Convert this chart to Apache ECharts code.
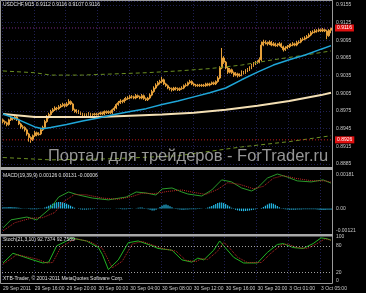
<!DOCTYPE html>
<html><head><meta charset="utf-8">
<script src="https://cdn.jsdelivr.net/npm/echarts@6/dist/echarts.min.js"></script>
<style>html,body{margin:0;padding:0;background:#000;}#c{width:366px;height:293px;}</style>
</head><body><div id="c"></div>
<script>
// ---------- DATA ----------
const titleMain = 'USDCHF,M15 0.9112 0.9116 0.9107 0.9116';
const titleMacd = 'MACD(19,39,9) 0.00126 0.00131 -0.00006';
const titleStoch = 'Stoch(21,3,10) 92.7374 92.7589';
const copyright = 'XTB-Trader, \u00a9 2001-2011 MetaQuotes Software Corp.';
const watermark = '\u041f\u043e\u0440\u0442\u0430\u043b \u0434\u043b\u044f \u0442\u0440\u0435\u0439\u0434\u0435\u0440\u043e\u0432 - ForTrader.ru';
const timeTicks = ['29 Sep 2011','29 Sep 16:00','29 Sep 20:00','30 Sep 00:00','30 Sep 04:00','30 Sep 08:00','30 Sep 12:00','30 Sep 16:00','30 Sep 20:00','3 Oct 01:00','3 Oct 05:00'];
const barsPerTick = 16;
const priceTickStart = 0.8885, priceTickStep = 0.0030, priceMax = 0.91618;
const bidPrice = 0.9116;
const alertPrice = 0.8926;
const macdMin = -0.00121, macdMax = 0.00181;
const stochLevels = [20, 80];
const stochLabels = [0, 20, 80, 100];
// candles: [open, close, low, high]
const candles = [
[0.8960,0.8957,0.8954,0.8962],[0.8957,0.8955,0.8952,0.8959],[0.8955,0.8952,0.8949,0.8957],[0.8952,0.8960,0.8950,0.8962],
[0.8960,0.8963,0.8958,0.8966],[0.8963,0.8962,0.8959,0.8965],[0.8962,0.8965,0.8960,0.8968],[0.8965,0.8960,0.8958,0.8967],
[0.8960,0.8953,0.8951,0.8962],[0.8953,0.8948,0.8945,0.8955],[0.8948,0.8947,0.8944,0.8951],[0.8947,0.8943,0.8940,0.8949],
[0.8943,0.8936,0.8933,0.8945],[0.8936,0.8930,0.8923,0.8938],[0.8930,0.8926,0.8921,0.8932],[0.8926,0.8933,0.8924,0.8935],
[0.8933,0.8938,0.8931,0.8941],[0.8938,0.8935,0.8932,0.8940],[0.8935,0.8936,0.8933,0.8939],[0.8936,0.8943,0.8934,0.8945],
[0.8943,0.8947,0.8941,0.8950],[0.8947,0.8957,0.8945,0.8960],[0.8957,0.8965,0.8955,0.8968],[0.8965,0.8969,0.8962,0.8972],
[0.8969,0.8974,0.8967,0.8977],[0.8974,0.8977,0.8972,0.8980],[0.8977,0.8980,0.8975,0.8983],[0.8980,0.8979,0.8976,0.8982],
[0.8979,0.8982,0.8977,0.8985],[0.8982,0.8984,0.8980,0.8987],[0.8984,0.8986,0.8982,0.8989],[0.8986,0.8984,0.8981,0.8988],
[0.8984,0.8987,0.8982,0.8990],[0.8987,0.8991,0.8985,0.8995],[0.8991,0.8987,0.8985,0.8993],[0.8987,0.8977,0.8975,0.8989],
[0.8977,0.8974,0.8972,0.8979],[0.8974,0.8975,0.8971,0.8978],[0.8975,0.8972,0.8970,0.8977],[0.8972,0.8970,0.8968,0.8974],
[0.8970,0.8969,0.8966,0.8972],[0.8969,0.8967,0.8965,0.8971],[0.8967,0.8969,0.8965,0.8971],[0.8969,0.8970,0.8967,0.8973],
[0.8970,0.8967,0.8965,0.8972],[0.8967,0.8969,0.8965,0.8971],[0.8969,0.8970,0.8967,0.8972],[0.8970,0.8969,0.8967,0.8972],
[0.8969,0.8970,0.8967,0.8972],[0.8970,0.8972,0.8968,0.8974],[0.8972,0.8970,0.8968,0.8974],[0.8970,0.8974,0.8968,0.8976],
[0.8974,0.8972,0.8970,0.8976],[0.8972,0.8974,0.8970,0.8976],[0.8974,0.8972,0.8970,0.8976],[0.8972,0.8977,0.8970,0.8979],
[0.8977,0.8980,0.8975,0.8983],[0.8980,0.8986,0.8978,0.8988],[0.8986,0.8989,0.8984,0.8992],[0.8989,0.8992,0.8987,0.8995],
[0.8992,0.8991,0.8988,0.8994],[0.8991,0.8994,0.8989,0.8997],[0.8994,0.8996,0.8992,0.8999],[0.8996,0.8997,0.8994,0.9000],
[0.8997,0.8999,0.8995,0.9002],[0.8999,0.8999,0.8996,0.9002],[0.8999,0.8997,0.8995,0.9001],[0.8997,0.9001,0.8995,0.9004],
[0.9001,0.8999,0.8997,0.9003],[0.8999,0.8997,0.8995,0.9001],[0.8997,0.9001,0.8995,0.9004],[0.9001,0.8996,0.8994,0.9003],
[0.8996,0.8994,0.8992,0.8998],[0.8994,0.8997,0.8992,0.8999],[0.8997,0.9002,0.8995,0.9005],[0.9002,0.9008,0.9000,0.9011],
[0.9008,0.9014,0.9006,0.9017],[0.9014,0.9019,0.9012,0.9022],[0.9019,0.9023,0.9017,0.9026],[0.9023,0.9025,0.9020,0.9028],
[0.9025,0.9028,0.9022,0.9033],[0.9028,0.9021,0.9019,0.9030],[0.9021,0.9018,0.9016,0.9023],[0.9018,0.9014,0.9012,0.9020],
[0.9014,0.9013,0.9010,0.9016],[0.9013,0.9011,0.9008,0.9015],[0.9011,0.9014,0.9009,0.9016],[0.9014,0.9013,0.9010,0.9016],
[0.9013,0.9011,0.9009,0.9015],[0.9011,0.9013,0.9009,0.9015],[0.9013,0.9014,0.9011,0.9017],[0.9014,0.9018,0.9012,0.9020],
[0.9018,0.9019,0.9016,0.9022],[0.9019,0.9023,0.9017,0.9025],[0.9023,0.9025,0.9021,0.9028],[0.9025,0.9021,0.9019,0.9027],
[0.9021,0.9019,0.9017,0.9023],[0.9019,0.9018,0.9016,0.9021],[0.9018,0.9019,0.9016,0.9021],[0.9019,0.9018,0.9016,0.9021],
[0.9018,0.9019,0.9016,0.9021],[0.9019,0.9018,0.9016,0.9021],[0.9018,0.9021,0.9016,0.9023],[0.9021,0.9019,0.9017,0.9023],
[0.9019,0.9021,0.9017,0.9023],[0.9021,0.9023,0.9019,0.9025],[0.9023,0.9021,0.9019,0.9025],[0.9021,0.9025,0.9019,0.9027],
[0.9025,0.9031,0.9023,0.9034],[0.9031,0.9048,0.9029,0.9051],[0.9048,0.9065,0.9046,0.9082],[0.9065,0.9058,0.9055,0.9068],
[0.9058,0.9048,0.9046,0.9060],[0.9048,0.9041,0.9038,0.9050],[0.9041,0.9045,0.9039,0.9048],[0.9045,0.9040,0.9038,0.9047],
[0.9040,0.9036,0.9033,0.9042],[0.9036,0.9038,0.9034,0.9041],[0.9038,0.9035,0.9032,0.9040],[0.9035,0.9036,0.9033,0.9039],
[0.9036,0.9041,0.9034,0.9044],[0.9041,0.9040,0.9037,0.9043],[0.9040,0.9043,0.9038,0.9046],[0.9043,0.9045,0.9041,0.9048],
[0.9045,0.9048,0.9043,0.9051],[0.9048,0.9052,0.9046,0.9055],[0.9052,0.9055,0.9050,0.9058],[0.9055,0.9057,0.9053,0.9060],
[0.9057,0.9058,0.9055,0.9061],[0.9058,0.9062,0.9056,0.9066],[0.9062,0.9087,0.9060,0.9093],[0.9087,0.9092,0.9085,0.9096],
[0.9092,0.9091,0.9088,0.9095],[0.9091,0.9089,0.9086,0.9093],[0.9089,0.9092,0.9087,0.9095],[0.9092,0.9087,0.9085,0.9094],
[0.9087,0.9089,0.9085,0.9092],[0.9089,0.9086,0.9084,0.9091],[0.9086,0.9087,0.9084,0.9090],[0.9087,0.9089,0.9085,0.9092],
[0.9089,0.9084,0.9082,0.9091],[0.9084,0.9079,0.9076,0.9086],[0.9079,0.9082,0.9077,0.9085],[0.9082,0.9084,0.9080,0.9087],
[0.9084,0.9086,0.9082,0.9089],[0.9086,0.9087,0.9084,0.9090],[0.9087,0.9089,0.9085,0.9092],[0.9089,0.9087,0.9085,0.9091],
[0.9087,0.9091,0.9085,0.9094],[0.9091,0.9092,0.9089,0.9095],[0.9092,0.9096,0.9090,0.9099],[0.9096,0.9097,0.9094,0.9100],
[0.9097,0.9099,0.9095,0.9102],[0.9099,0.9101,0.9097,0.9104],[0.9101,0.9104,0.9099,0.9107],[0.9104,0.9108,0.9102,0.9111],
[0.9108,0.9109,0.9106,0.9112],[0.9109,0.9111,0.9107,0.9114],[0.9111,0.9111,0.9108,0.9114],[0.9111,0.9113,0.9109,0.9116],
[0.9113,0.9111,0.9109,0.9115],[0.9111,0.9113,0.9109,0.9116],[0.9113,0.9111,0.9109,0.9115],[0.9111,0.9103,0.9097,0.9113],
[0.9103,0.9112,0.9101,0.9114],[0.9112,0.9116,0.9107,0.9116]
];
// moving averages read at bar indices: [bar, value]
const maFast = [[0,0.8970],[8,0.8960],[16,0.8948],[20,0.8945],[24,0.8947],[32,0.8952],[40,0.8958],[48,0.8963],[56,0.8969],[64,0.8974],[72,0.8979],[80,0.8986],[88,0.8992],[96,0.8999],[104,0.9006],[112,0.9014],[120,0.9028],[128,0.9041],[136,0.9053],[144,0.9062],[152,0.9070],[160,0.9080],[165,0.9086]];
const maSlow = [[0,0.8970],[16,0.8965],[32,0.8965],[48,0.8965],[64,0.8967],[80,0.8969],[96,0.8972],[112,0.8977],[128,0.8984],[144,0.8992],[160,0.9002],[165,0.9006]];
const envUpper = [[0,0.9043],[16,0.9040],[24,0.9036],[40,0.9036],[56,0.9038],[72,0.9040],[88,0.9043],[104,0.9047],[120,0.9053],[136,0.9062],[152,0.9070],[165,0.9077]];
const envLower = [[0,0.8896],[24,0.8892],[56,0.8894],[88,0.8899],[120,0.8914],[144,0.8923],[165,0.8933]];
// MACD
const macdMain = [[0,-0.00096],[4,-0.00056],[12,-0.00042],[17,-0.00056],[24,0.00003],[28,0.00057],[33,0.00082],[38,0.00067],[45,0.00052],[53,0.00043],[62,0.00057],[67,0.00082],[72,0.00077],[77,0.00067],[80,0.00097],[85,0.00102],[90,0.00082],[93,0.00072],[100,0.00062],[105,0.00092],[110,0.00142],[115,0.00132],[120,0.00102],[125,0.00087],[128,0.00102],[133,0.00151],[138,0.00171],[143,0.00156],[148,0.00137],[155,0.00132],[161,0.00142],[165,0.00126]];
const macdSignal = [[0,-0.00110],[6,-0.00070],[14,-0.00048],[20,-0.00045],[26,-0.00020],[30,0.00030],[36,0.00070],[42,0.00068],[50,0.00052],[58,0.00046],[65,0.00060],[70,0.00076],[76,0.00074],[83,0.00085],[90,0.00092],[96,0.00080],[102,0.00070],[108,0.00095],[113,0.00128],[119,0.00120],[126,0.00098],[131,0.00110],[136,0.00150],[141,0.00163],[147,0.00150],[155,0.00138],[162,0.00137],[165,0.00131]];
const macdHist = [
0.00006,0.00007,0.00007,0.00008,0.00008,0.00007,0.00006,0.00005,0.00004,0.00003,0.00002,0.00001,
-0.00001,-0.00002,-0.00003,-0.00004,-0.00004,-0.00003,-0.00002,-0.00001,
0.00002,0.00005,0.00009,0.00014,0.00019,0.00024,0.00028,0.00031,0.00033,0.00033,0.00031,0.00028,0.00024,0.00019,0.00014,0.00009,
0.00004,0,-0.00002,-0.00004,-0.00005,-0.00005,-0.00005,-0.00004,-0.00004,-0.00003,-0.00002,
-0.00001,0,0.00001,0.00001,0.00002,0.00002,0.00001,0.00001,0,0,-0.00001,-0.00001,
-0.00002,-0.00003,-0.00003,-0.00003,-0.00002,-0.00002,-0.00001,0,
0.00002,0.00004,0.00005,0.00005,0.00003,0.00001,
-0.00003,-0.00006,-0.00009,-0.00010,-0.00006,
0.00002,0.00008,0.00014,0.00019,0.00020,0.00017,0.00012,0.00006,
0.00001,-0.00002,-0.00004,-0.00005,-0.00006,-0.00006,-0.00005,-0.00005,-0.00004,-0.00004,
-0.00003,-0.00003,-0.00002,-0.00002,-0.00001,0,0.00002,0.00005,0.00009,
0.00013,0.00018,0.00023,0.00027,0.00030,0.00030,0.00027,0.00022,0.00016,0.00010,0.00004,
-0.00002,-0.00006,-0.00009,-0.00011,-0.00012,-0.00013,-0.00012,-0.00011,-0.00010,-0.00008,-0.00006,
-0.00004,-0.00002,0,0.00003,0.00008,
0.00014,0.00020,0.00025,0.00026,0.00024,0.00019,0.00013,0.00007,0.00002,
-0.00002,-0.00004,-0.00005,-0.00006,-0.00006,-0.00006,-0.00006,-0.00005,-0.00005,-0.00005,-0.00004,-0.00004,-0.00004,-0.00004,-0.00003,-0.00003,-0.00004,-0.00005,-0.00006,-0.00007,-0.00007,-0.00007,-0.00006,-0.00006,-0.00006
];
// Stochastic
const stochMain = [[0,41],[5,63],[15,48],[20,41],[23,43],[27,80],[32,91],[34,98],[42,91],[48,76],[50,60],[53,26],[58,48],[63,87],[68,91],[75,80],[78,74],[85,70],[90,48],[95,43],[98,52],[101,48],[106,70],[109,91],[111,80],[116,54],[121,41],[128,41],[133,65],[138,83],[141,85],[146,76],[151,74],[156,85],[160,98],[163,96],[165,92.74]];
const stochSignal = [[0,38],[7,60],[17,50],[22,41],[25,42],[29,76],[34,90],[37,96],[44,89],[50,74],[55,30],[60,45],[65,84],[70,90],[77,79],[80,74],[87,68],[92,47],[97,44],[100,51],[103,49],[108,68],[111,88],[113,80],[118,54],[123,42],[130,42],[135,64],[140,82],[143,84],[148,76],[153,74],[158,85],[162,96],[165,92.76]];

// ---------- CHART ----------
const cats = candles.map((_, i) => String(i));
const FONT = '"Liberation Sans", Arial, sans-serif';
const gridCol = '#202052';
const gridDash = [1, 2];
const axisTxt = '#c8c8c8';
const chart = echarts.init(document.getElementById('c'), null, {renderer: 'canvas'});
function xAx(gi, showLabel) {
  return {
    type: 'category', gridIndex: gi, data: cats, boundaryGap: true,
    axisLine: {show: false}, axisTick: {show: false},
    axisLabel: {
      show: showLabel, interval: barsPerTick - 1, align: 'left', margin: 5,
      color: axisTxt, fontSize: 5, fontFamily: FONT,
      formatter: (v, idx) => timeTicks[Math.round(idx / barsPerTick)] || ''
    },
    splitLine: {show: true, interval: barsPerTick - 1, lineStyle: {color: gridCol, type: gridDash, width: 1}}
  };
}
const lineBase = (name, data, xi, yi, color, width, type) => ({
  type: 'line', name, data, xAxisIndex: xi, yAxisIndex: yi, showSymbol: false, symbol: 'none', silent: true,
  lineStyle: {color, width, type: type || 'solid'}, z: 3
});
// price tag series: one point at the last bar, its label sits on the price axis
const tagSeries = (price, lineColor) => ({
  type: 'line', data: [[0, price], [candles.length - 1, price]], xAxisIndex: 0, yAxisIndex: 0,
  showSymbol: false, symbol: 'none', silent: true, z: 4,
  lineStyle: {color: lineColor, width: 1, type: [1, 2]},
  endLabel: {show: true, formatter: price.toFixed(4), color: '#fff', backgroundColor: '#e01010',
    fontSize: 5, fontFamily: FONT, padding: [1, 2], distance: 4, verticalAlign: 'middle'}
});
chart.setOption({
  backgroundColor: '#000',
  animation: false,
  grid: [
    {left: 2, top: 1, width: 330, height: 163},
    {left: 2, top: 172, width: 330, height: 61},
    {left: 2, top: 237, width: 330, height: 44}
  ],
  xAxis: [xAx(0, false), xAx(1, false), xAx(2, true)],
  yAxis: [
    {type: 'value', gridIndex: 0, position: 'right', min: priceTickStart, max: priceMax, interval: priceTickStep,
     axisLine: {show: true, lineStyle: {color: '#b0b0b0'}}, axisTick: {show: false},
     axisLabel: {color: axisTxt, fontSize: 5, fontFamily: FONT, margin: 4, showMaxLabel: false,
       formatter: v => v > priceMax - 0.0002 ? '' : v.toFixed(4)},
     splitLine: {show: true, lineStyle: {color: gridCol, type: gridDash}}},
    {type: 'value', gridIndex: 1, position: 'right', min: macdMin, max: macdMax, interval: -macdMin,
     axisLine: {show: true, lineStyle: {color: '#b0b0b0'}}, axisTick: {show: false},
     axisLabel: {color: axisTxt, fontSize: 5, fontFamily: FONT, margin: 4,
       verticalAlignMinLabel: 'bottom', verticalAlignMaxLabel: 'top',
       formatter: v => Math.abs(v) < 1e-9 ? '0.00' : (Math.abs(v - macdMin) < 1e-7 ? macdMin.toFixed(5) : (Math.abs(v - macdMax) < 1e-7 ? macdMax.toFixed(5) : ''))},
     splitLine: {show: false}},
    {type: 'value', gridIndex: 2, position: 'right', min: 0, max: 100, interval: 20,
     axisLine: {show: true, lineStyle: {color: '#b0b0b0'}}, axisTick: {show: false},
     axisLabel: {color: axisTxt, fontSize: 5, fontFamily: FONT, margin: 4,
       formatter: v => stochLabels.includes(Math.round(v)) ? String(Math.round(v)) : ''},
     splitLine: {show: false}}
  ],
  series: [
    {type: 'candlestick', name: 'USDCHF', data: candles, xAxisIndex: 0, yAxisIndex: 0, barWidth: '70%', silent: true, z: 2,
     itemStyle: {color: '#ffe1a0', color0: '#c07a1c', borderColor: '#e6a03a', borderColor0: '#e6a03a', borderWidth: 1}},
    lineBase('env up', envUpper, 0, 0, '#6b8e23', 1, [4, 3]),
    lineBase('env dn', envLower, 0, 0, '#6b8e23', 1, [4, 3]),
    lineBase('MA slow', maSlow, 0, 0, '#f3dfb4', 2),
    lineBase('MA fast', maFast, 0, 0, '#1fa6d8', 1.5),
    tagSeries(bidPrice, '#7a2c86'),
    tagSeries(alertPrice, '#c81818'),
    {type: 'bar', name: 'hist', data: macdHist, xAxisIndex: 1, yAxisIndex: 1, barWidth: 1.2, silent: true,
     itemStyle: {color: '#25b9e6'}},
    lineBase('MACD', macdMain, 1, 1, '#2a9a2a', 1),
    lineBase('Signal', macdSignal, 1, 1, '#c02828', 1, 'dotted'),
    Object.assign(lineBase('Stoch', stochMain, 2, 2, '#22b422', 1), {
      markLine: {symbol: 'none', silent: true, label: {show: false},
        lineStyle: {color: '#a0a0a0', type: [1, 2], width: 1},
        data: stochLevels.map(l => ({yAxis: l}))}}),
    lineBase('Stoch sig', stochSignal, 2, 2, '#c02828', 1, 'dotted')
  ],
  graphic: [
    {type: 'rect', silent: true, shape: {x: 0.5, y: 0.5, width: 332, height: 283}, style: {fill: 'none', stroke: '#9a9a9a', lineWidth: 1}, z: 100},
    {type: 'rect', silent: true, shape: {x: 0, y: 167, width: 333, height: 3}, style: {fill: '#a8a8a8'}, z: 100},
    {type: 'rect', silent: true, shape: {x: 0, y: 234, width: 333, height: 2.5}, style: {fill: '#a8a8a8'}, z: 100},
    {type: 'text', silent: true, left: 3, top: 2, style: {text: titleMain, fill: '#e0e0e0', font: '5px "Liberation Sans", Arial, sans-serif'}, z: 100},
    {type: 'text', silent: true, left: 3, top: 173, style: {text: titleMacd, fill: '#e0e0e0', font: '5px "Liberation Sans", Arial, sans-serif'}, z: 100},
    {type: 'text', silent: true, left: 3, top: 237, style: {text: titleStoch, fill: '#e0e0e0', font: '5px "Liberation Sans", Arial, sans-serif'}, z: 100},
    {type: 'text', silent: true, left: 3, top: 276, style: {text: copyright, fill: '#e0e0e0', font: '5px "Liberation Sans", Arial, sans-serif'}, z: 100},
    {type: 'text', silent: true, left: 48, top: 148, style: {text: watermark, fill: 'rgba(175,175,175,0.85)', font: '16.5px "Liberation Sans", Arial, sans-serif'}, z: 100}
  ]
});
</script>
</body></html>
